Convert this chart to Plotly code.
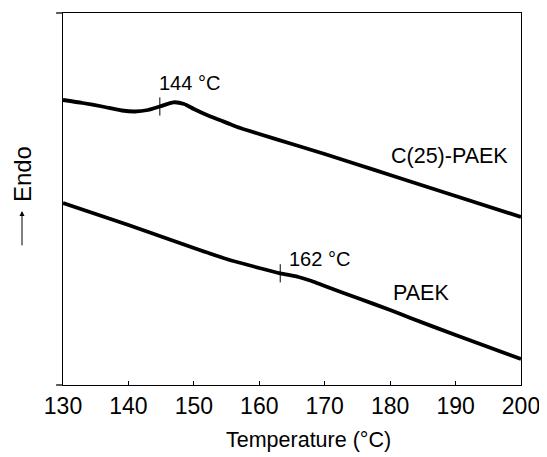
import plotly.graph_objects as go

# Temperature (°C) and heat-flow signal (arbitrary units)
temp_c25 = [130, 133, 136, 139, 141, 143, 144.8, 146.9, 148.5, 150, 152, 155.5, 157.1, 160, 165, 170, 175, 180, 190, 200]
flow_c25 = [285, 282, 278.5, 274.5, 273.5, 275, 278.5, 282.7, 281, 276, 270, 261, 257, 251, 241, 231, 220.5, 210, 189, 168]

temp_paek = [130, 135, 140, 145, 150, 155, 160, 163.2, 166, 168, 170, 175, 180, 183.1, 190, 200]
flow_paek = [182, 171, 160, 148.5, 137, 126, 117, 111.7, 108, 104, 99, 87, 75, 67, 50, 26]

onset_temp = [144.8, 163.2]
onset_flow = [278.5, 111.7]
onset_labels = ["144 \u00b0C", "162 \u00b0C"]

series_names = ["C(25)-PAEK", "PAEK"]
x_ticks = [130, 140, 150, 160, 170, 180, 190, 200]

FONT = "Liberation Sans Narrow, Arial Narrow, Liberation Sans, Arial, sans-serif"

fig = go.Figure()
fig.add_trace(go.Scatter(x=temp_c25, y=flow_c25, mode="lines", line=dict(color="black", width=3.8, shape="spline", smoothing=0.6), name=series_names[0], showlegend=False))
fig.add_trace(go.Scatter(x=temp_paek, y=flow_paek, mode="lines", line=dict(color="black", width=3.8, shape="spline", smoothing=0.6), name=series_names[1], showlegend=False))
fig.add_trace(go.Scatter(x=onset_temp, y=onset_flow, mode="markers",
                         marker=dict(symbol="line-ns-open", size=13, color="black", line=dict(color="black", width=1)),
                         showlegend=False, hoverinfo="skip"))

# onset labels
fig.add_annotation(x=144.3, y=302, text=onset_labels[0], showarrow=False, xanchor="left", yanchor="middle",
                   font=dict(size=20, color="black", family=FONT))
fig.add_annotation(x=164.2, y=126, text=onset_labels[1], showarrow=False, xanchor="left", yanchor="middle",
                   font=dict(size=20, color="black", family=FONT))
# series labels
fig.add_annotation(x=198.3, y=229, text=series_names[0], showarrow=False, xanchor="right", yanchor="middle",
                   font=dict(size=21.5, color="black", family=FONT))
fig.add_annotation(x=180.1, y=92.5, text=series_names[1], showarrow=False, xanchor="left", yanchor="middle",
                   font=dict(size=21.5, color="black", family=FONT))

# y-axis label "Endo" with arrow
fig.add_annotation(xref="paper", yref="paper", x=-0.0895, y=0.567, text="Endo", textangle=-90,
                   showarrow=False, xanchor="center", yanchor="middle",
                   font=dict(size=24, color="black", family=FONT))
fig.add_annotation(xref="paper", yref="paper", x=-0.0895, y=0.468, ax=0, ay=36,
                   text="", showarrow=True,
                   arrowhead=2, arrowsize=1, arrowwidth=1, arrowcolor="black")

# x-axis title
fig.add_annotation(xref="paper", yref="paper", x=0.536, y=-0.148, text="Temperature (\u00b0C)",
                   showarrow=False, xanchor="center", yanchor="middle",
                   font=dict(size=21.5, color="black", family=FONT))

# small extensions of top and bottom frame lines to the left
fig.add_shape(type="line", xref="paper", yref="paper", x0=-0.015, x1=0, y0=0, y1=0, line=dict(color="black", width=1.3))
fig.add_shape(type="line", xref="paper", yref="paper", x0=-0.015, x1=0, y0=1, y1=1, line=dict(color="black", width=1.3))

fig.update_xaxes(range=[130, 200], tickvals=x_ticks, ticks="inside", ticklen=4, tickwidth=1.3, tickcolor="black",
                 showline=True, linecolor="black", linewidth=1.3, mirror=True, showgrid=False, zeroline=False,
                 tickfont=dict(size=23, color="black", family=FONT))
fig.update_yaxes(range=[0, 372], showticklabels=False, ticks="", showline=True, linecolor="black", linewidth=1.3,
                 mirror=True, showgrid=False, zeroline=False)

# page body has an 8px default margin, so margins are reduced by 8px on the left/top
fig.update_layout(width=547, height=457, margin=dict(l=55, r=34, t=5, b=80),
                  paper_bgcolor="white", plot_bgcolor="white", font=dict(family=FONT, color="black"))

fig.write_html("out.html")
